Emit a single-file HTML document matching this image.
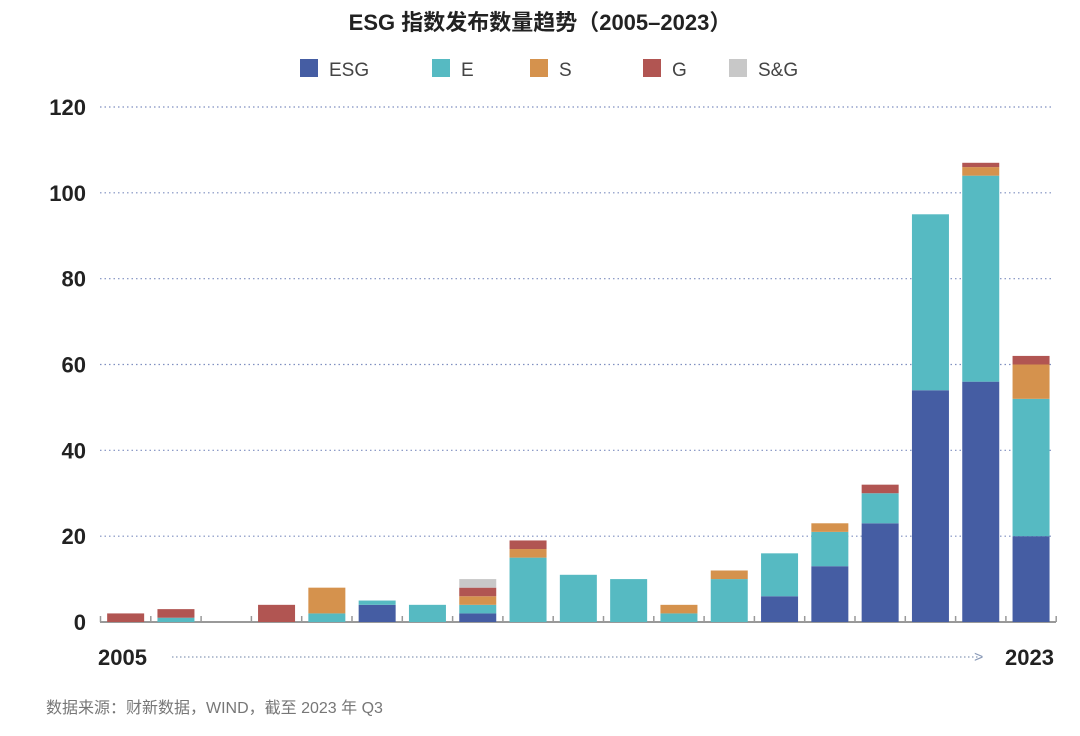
<!DOCTYPE html>
<html><head><meta charset="utf-8"><style>
body{margin:0;background:#fff;}
svg text{font-family:"Liberation Sans","Noto Sans CJK SC",sans-serif;}
</style></head><body>
<svg id="chart" width="1080" height="731" xmlns="http://www.w3.org/2000/svg">
<text x="540" y="30" text-anchor="middle" font-size="22" font-weight="bold" fill="#222">ESG 指数发布数量趋势（2005–2023）</text>
<g id="legend"></g>
<g id="grid"></g>
<g id="bars"></g>
<text x="98" y="665" font-size="22" font-weight="bold" fill="#222">2005</text>
<line x1="172" y1="657" x2="980" y2="657" stroke="#8a9ab8" stroke-width="1.2" stroke-dasharray="1.5,2.5"/>
<text x="974" y="662" font-size="16" fill="#8a9ab8">&gt;</text>
<text x="1005" y="665" font-size="22" font-weight="bold" fill="#222">2023</text>
<text x="46" y="713" font-size="16" fill="#777">数据来源：财新数据，WIND，截至 2023 年 Q3</text>
</svg>
<script>
const years=[2005,2006,2007,2008,2009,2010,2011,2012,2013,2014,2015,2016,2017,2018,2019,2020,2021,2022,2023];
const esg=[0,0,0,0,0,4,0,2,0,0,0,0,0,6,13,23,54,56,20];
const e=[0,1,0,0,2,1,4,2,15,11,10,2,10,10,8,7,41,48,32];
const s=[0,0,0,0,6,0,0,2,2,0,0,2,2,0,2,0,0,2,8];
const g=[2,2,0,4,0,0,0,2,2,0,0,0,0,0,0,2,0,1,2];
const sg=[0,0,0,0,0,0,0,2,0,0,0,0,0,0,0,0,0,0,0];
const yTicks=[0,20,40,60,80,100,120];
const seriesNames=["ESG","E","S","G","S&G"];
const colors=["#455da3","#56bac2","#d5924d","#b15552","#c8c8c8"];
const NS="http://www.w3.org/2000/svg";
const x0=100.5,step=50.3,bw=37,yBase=622,yTop=107,yMax=120;
const y=v=>yBase-(v/yMax)*(yBase-yTop);
const xc=i=>x0+step*(i+0.5);
function mk(t,a,p){const el=document.createElementNS(NS,t);for(const k in a)el.setAttribute(k,a[k]);p.appendChild(el);return el;}
const grid=document.getElementById('grid');
yTicks.forEach(t=>{
  if(t>0){const l=mk('line',{x1:100,x2:1052,y1:y(t),y2:y(t),stroke:'#7f8fc0','stroke-width':1.2,'stroke-dasharray':'1.5,3'},grid);
  
  }
  const tx=mk('text',{x:86,y:y(t)+8,'text-anchor':'end','font-size':22,'font-weight':'bold',fill:'#222'},grid);
  tx.textContent=t;
  
  
});
const ax=mk('line',{x1:100,x2:1056,y1:yBase,y2:yBase,stroke:'#999','stroke-width':2},grid);


for(let i=0;i<=years.length;i++){const tk=mk('line',{x1:x0+step*i,x2:x0+step*i,y1:yBase-6,y2:yBase,stroke:'#999','stroke-width':1.5},grid);

}
const bars=document.getElementById('bars');
const series=[esg,e,s,g,sg];
years.forEach((yr,i)=>{
  let acc=0;
  series.forEach((arr,k)=>{
    const v=arr[i];if(!v)return;
    const r=mk('rect',{x:xc(i)-bw/2,y:y(acc+v),width:bw,height:y(acc)-y(acc+v),fill:colors[k]},bars);
    
    
    acc+=v;
  });
});
const lg=document.getElementById('legend');
const lx=[300,432,530,643,729];
seriesNames.forEach((n,k)=>{
  const r=mk('rect',{x:lx[k],y:59,width:18,height:18,fill:colors[k]},lg);
  
  
  const t=mk('text',{x:lx[k]+29,y:76,'font-size':19,fill:'#444'},lg);
  t.textContent=n;
  
  
});
</script>
</body></html>
